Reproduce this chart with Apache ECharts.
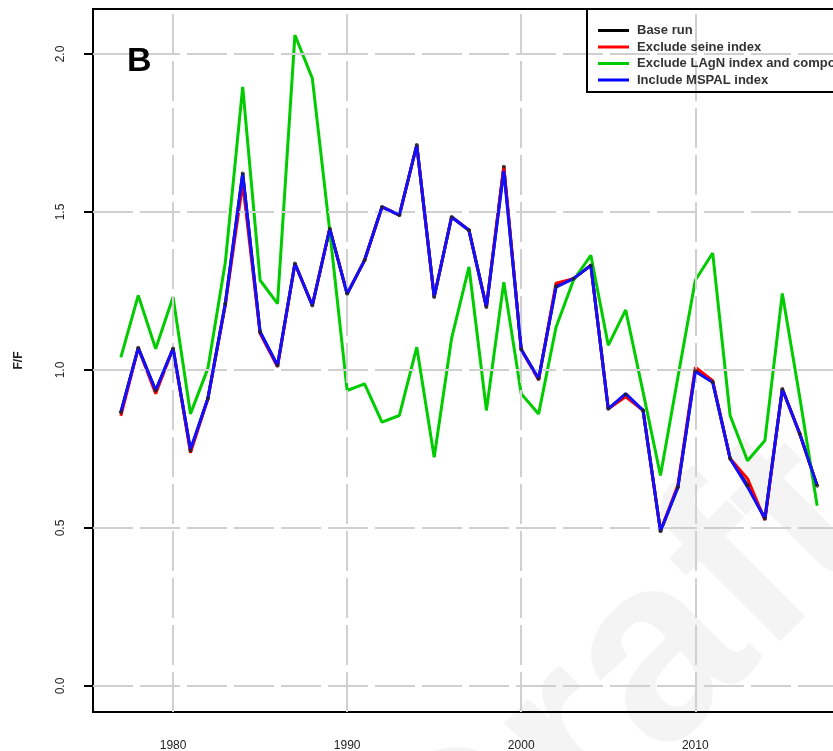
<!DOCTYPE html>
<html>
<head>
<meta charset="utf-8">
<script src="https://cdn.jsdelivr.net/npm/echarts@6/dist/echarts.min.js"></script>
<style>
html,body{margin:0;padding:0;background:#fff;}
#chart{width:833px;height:751px;}
</style>
</head>
<body>
<div id="chart"></div>
<script>
const years = [1977,1978,1979,1980,1981,1982,1983,1984,1985,1986,1987,1988,1989,1990,1991,1992,1993,1994,1995,1996,1997,1998,1999,2000,2001,2002,2003,2004,2005,2006,2007,2008,2009,2010,2011,2012,2013,2014,2015,2016,2017];

const baseRun = [0.866,1.07,0.935,1.068,0.745,0.91,1.21,1.622,1.12,1.014,1.337,1.204,1.447,1.241,1.347,1.516,1.49,1.712,1.231,1.484,1.442,1.199,1.643,1.065,0.972,1.265,1.289,1.331,0.877,0.922,0.872,0.49,0.629,0.998,0.962,0.72,0.635,0.53,0.94,0.798,0.634];

const excludeSeine = [0.855,1.07,0.925,1.068,0.738,0.91,1.205,1.59,1.115,1.01,1.337,1.204,1.447,1.241,1.347,1.516,1.49,1.712,1.231,1.484,1.442,1.199,1.645,1.065,0.968,1.275,1.289,1.331,0.877,0.915,0.872,0.49,0.635,1.009,0.966,0.72,0.656,0.525,0.94,0.798,0.634];

const excludeLAgN = [1.04,1.236,1.067,1.231,0.861,1.005,1.34,1.896,1.284,1.21,2.06,1.923,1.44,0.935,0.956,0.835,0.856,1.072,0.724,1.1,1.326,0.872,1.278,0.925,0.861,1.135,1.284,1.363,1.078,1.19,0.93,0.666,0.977,1.284,1.37,0.856,0.713,0.777,1.242,0.914,0.57];

const includeMSPAL = [0.866,1.07,0.935,1.068,0.748,0.91,1.21,1.622,1.12,1.014,1.337,1.204,1.447,1.241,1.347,1.516,1.49,1.712,1.231,1.484,1.442,1.199,1.63,1.065,0.972,1.262,1.289,1.331,0.877,0.925,0.872,0.49,0.629,0.995,0.961,0.72,0.63,0.53,0.94,0.798,0.634];

const seriesNames = ['Base run','Exclude seine index','Exclude LAgN index and compositions','Include MSPAL index'];
const seriesColors = ['#000000','#ff0000','#00cc00','#0000ff'];

const xTicks = [1980,1990,2000,2010];
const yTicks = [0,0.5,1,1.5,2];
const yTickLabels = ['0.0','0.5','1.0','1.5','2.0'];
const xMin = 1975.4, xMax = 2018.6;
const yMin = -0.0824, yMax = 2.1424;

const pairs = arr => years.map((y,i)=>[y,arr[i]]);

const gridLineStyle = {color:'#d0d0d0', width:2, type:[40,7]};
const font = 'Liberation Sans, Arial, sans-serif';

const chart = echarts.init(document.getElementById('chart'), null, {renderer:'canvas'});
const option = {
  animation:false,
  backgroundColor:'#ffffff',
  grid:{left:93, top:9, width:752, height:703, outerBoundsMode:'none', containLabel:false,
    show:true, borderColor:'#000', borderWidth:2, backgroundColor:'transparent'},
  xAxis:{
    type:'value', min:xMin, max:xMax,
    axisLine:{show:false},
    axisTick:{show:true, customValues:xTicks, length:11, inside:false, lineStyle:{color:'#000', width:2}},
    axisLabel:{customValues:xTicks, margin:28, fontSize:12, color:'#222', fontFamily:font, formatter:v=>String(v)},
    splitLine:{show:false}
  },
  yAxis:{
    type:'value', min:yMin, max:yMax,
    name:'F/F', nameLocation:'middle', nameGap:68, nameRotate:90,
    nameTextStyle:{fontSize:12, fontWeight:'bold', color:'#222', fontFamily:font},
    axisLine:{show:false},
    axisTick:{show:true, customValues:yTicks, length:9, lineStyle:{color:'#000', width:2}},
    axisLabel:{customValues:yTicks, rotate:90, margin:26, fontSize:12, color:'#222', fontFamily:font,
      formatter:v=>{const i=yTicks.findIndex(t=>Math.abs(t-v)<1e-6); return i>=0?yTickLabels[i]:'';}},
    splitLine:{show:false}
  },
  legend:{
    show:true, orient:'vertical', left:593, top:19, itemWidth:31, itemHeight:3, itemGap:3.5, z:120,
    icon:'rect',
    textStyle:{fontSize:13, fontWeight:'bold', color:'#333', fontFamily:font, padding:[0,0,0,3]},
    data:seriesNames.map((n,i)=>({name:n, itemStyle:{color:seriesColors[i]}}))
  },
  graphic:[
    {type:'text', x:620, y:700, z:-10, rotation:Math.PI/4,
      style:{text:'Draft', fontSize:260, fontWeight:'bold', fill:'#f4f4f4', fontFamily:font, align:'center', verticalAlign:'middle'}},
    {type:'rect', shape:{x:587, y:9, width:300, height:83}, z:100,
      style:{fill:'none', stroke:'#000', lineWidth:2}},
    {type:'text', x:127, y:45, z:100,
      style:{text:'B', fontSize:34, fontWeight:'bold', fill:'#000', fontFamily:font}}
  ],
  series:[
    {type:'line', name:'_grid', data:[], silent:true, z:1,
      markLine:{silent:true, symbol:'none', label:{show:false}, lineStyle:gridLineStyle, animation:false,
        data:[...xTicks.map(v=>({xAxis:v})), ...yTicks.map(v=>({yAxis:v}))]}},
    {type:'line', name:seriesNames[0], data:pairs(baseRun), z:2, showSymbol:false, lineStyle:{color:seriesColors[0], width:3}, itemStyle:{color:seriesColors[0]}},
    {type:'line', name:seriesNames[1], data:pairs(excludeSeine), z:3, showSymbol:false, lineStyle:{color:seriesColors[1], width:3}, itemStyle:{color:seriesColors[1]}},
    {type:'line', name:seriesNames[2], data:pairs(excludeLAgN), z:4, showSymbol:false, lineStyle:{color:seriesColors[2], width:3}, itemStyle:{color:seriesColors[2]}},
    {type:'line', name:seriesNames[3], data:pairs(includeMSPAL), z:5, showSymbol:false, lineStyle:{color:'#1010ff', width:3}, itemStyle:{color:seriesColors[3]}},
    {type:'scatter', name:'_basepts', data:pairs(baseRun), z:6, symbol:'circle', symbolSize:4, itemStyle:{color:'#222'}, silent:true}
  ]
};
chart.setOption(option);
</script>
</body>
</html>
